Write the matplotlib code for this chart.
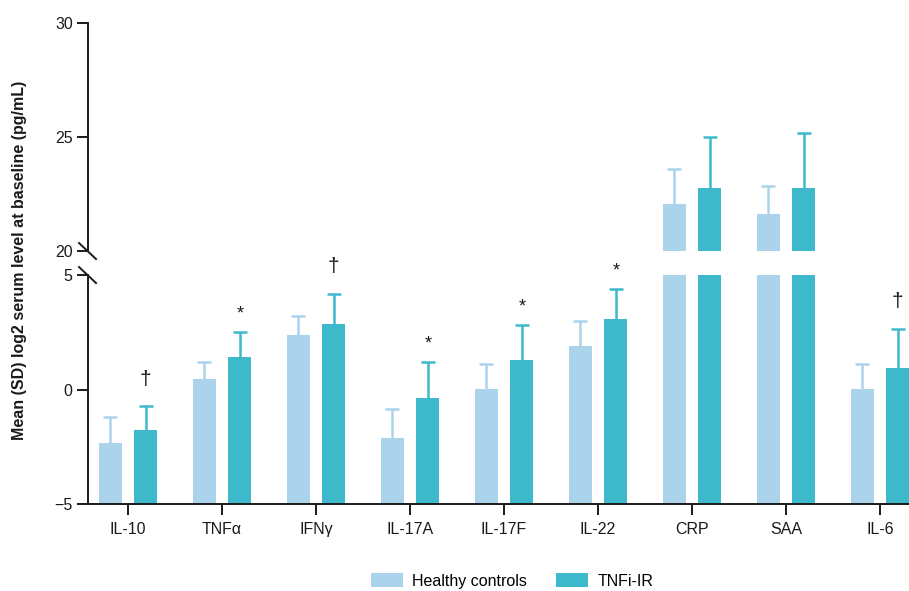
import matplotlib
matplotlib.use("Agg")
import matplotlib.pyplot as plt
from matplotlib.patches import Patch
import numpy as np

plt.rcParams['font.family'] = ['Liberation Sans', 'DejaVu Sans']

categories = ["IL-10", "TNFα", "IFNγ", "IL-17A", "IL-17F", "IL-22", "CRP", "SAA", "IL-6"]
hc_mean = [-2.33, 0.48, 2.36, -2.10, 0.04, 1.88, 22.05, 21.64, 0.03]
hc_sd = [1.12, 0.74, 0.87, 1.27, 1.09, 1.09, 1.53, 1.22, 1.10]
tnf_mean = [-1.75, 1.40, 2.88, -0.35, 1.27, 3.06, 22.75, 22.75, 0.95]
tnf_sd = [1.02, 1.09, 1.31, 1.53, 1.53, 1.31, 2.25, 2.43, 1.71]
markers = ["†", "*", "†", "*", "*", "*", "", "", "†"]
series_names = ["Healthy controls", "TNFi-IR"]

c_hc = "#ABD3EB"
c_tnf = "#3DB9CB"
dark = "#1a1a1a"
fs = 11.5

fig = plt.figure(figsize=(9.09, 5.91), dpi=100)
left = 88 / 909
ax_lo = fig.add_axes([left, (591 - 504) / 591, 1 - left, (504 - 275) / 591])
ax_hi = fig.add_axes([left, (591 - 251) / 591, 1 - left, (251 - 23) / 591])

x = np.arange(len(categories))
off = 0.19
w = 0.245
base = -5

for ax in (ax_lo, ax_hi):
    for xs, m, sd, col in ((x - off, hc_mean, hc_sd, c_hc), (x + off, tnf_mean, tnf_sd, c_tnf)):
        m = np.array(m)
        ax.bar(xs, m - base, bottom=base, width=w, color=col, zorder=2)
        eb = ax.errorbar(xs, m, yerr=[np.zeros_like(m), np.array(sd)], fmt='none',
                         ecolor=col, elinewidth=1.8, capsize=5, capthick=1.8, zorder=1)
        caps = eb.lines[1]
        if len(caps) == 2:
            caps[0].set_visible(False)
    ax.set_xlim(-40 / 94, -40 / 94 + 821 / 94)
    ax.spines['top'].set_visible(False)
    ax.spines['right'].set_visible(False)
    ax.spines['left'].set_linewidth(1.4)
    ax.spines['left'].set_color(dark)
    ax.tick_params(axis='y', direction='out', length=8, width=1.4, color=dark,
                   labelsize=fs, pad=3, labelcolor=dark)

ax_lo.set_ylim(-5, 5)
ax_lo.set_yticks([-5, 0, 5])
ax_lo.set_yticklabels(["\u22125", "0", "5"])
ax_lo.spines['bottom'].set_linewidth(1.4)
ax_lo.spines['bottom'].set_color(dark)
ax_lo.set_xticks(x)
ax_lo.set_xticklabels(categories)
ax_lo.tick_params(axis='x', direction='out', length=8, width=1.4, color=dark,
                  labelsize=fs, pad=5, labelcolor=dark)

ax_hi.set_ylim(20, 30)
ax_hi.set_yticks([20, 25, 30])
ax_hi.spines['bottom'].set_visible(False)
ax_hi.set_xticks([])

# significance markers
for i, mk in enumerate(markers):
    if mk:
        top = tnf_mean[i] + tnf_sd[i]
        if mk == "†":
            ax_lo.text(x[i] + off, top + 0.75, mk, ha='center', va='bottom',
                       fontsize=15, color=dark)
        else:
            ax_lo.text(x[i] + off, top + 0.45, mk, ha='center', va='bottom',
                       fontsize=13, color=dark)

# break marks
kw = dict(color=dark, lw=1.4, clip_on=False, transform=fig.transFigure)
for ypix in (251, 275):
    x0, x1 = 79 / 909, 96 / 909
    y0, y1 = (591 - (ypix - 8)) / 591, (591 - (ypix + 8)) / 591
    fig.add_artist(plt.Line2D([x0, x1], [y0, y1], **kw))

fig.text(20 / 909, (591 - 260) / 591, "Mean (SD) log2 serum level at baseline (pg/mL)",
         rotation=90, ha='center', va='center', fontsize=fs, fontweight='bold', color=dark)

handles = [Patch(facecolor=c_hc), Patch(facecolor=c_tnf)]
fig.legend(handles, series_names, loc='center', bbox_to_anchor=(512 / 909, 10 / 591),
           ncol=2, frameon=False, fontsize=fs, handlelength=2.0, handleheight=0.95,
           columnspacing=1.8, handletextpad=0.6, borderpad=0)

fig.savefig("out.png", dpi=100)
